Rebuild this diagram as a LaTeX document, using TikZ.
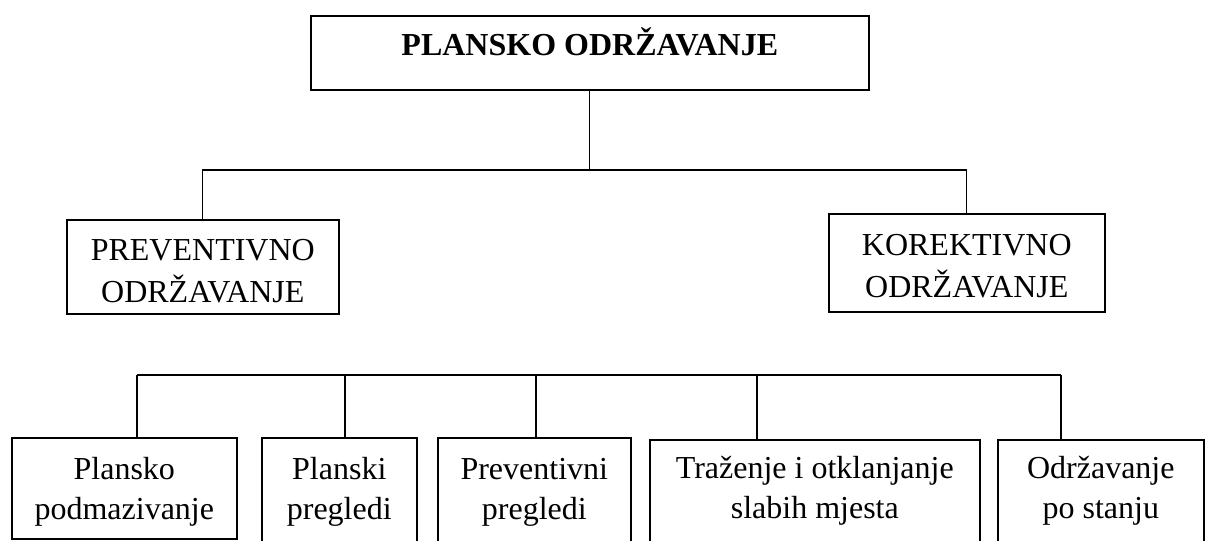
\documentclass[tikz,border=0pt]{standalone}
\usepackage{fontspec}
\setmainfont{Liberation Serif}
\newcommand\pxu{0.75pt}
\begin{document}
\begin{tikzpicture}[x=0.75pt,y=-0.75pt,
  box/.style={draw, line width=1.2pt, inner sep=0pt, align=center, anchor=north west},
  upfont/.style={font=\fontsize{24}{31.5}\selectfont},
  lowfont/.style={font=\fontsize{24}{30}\selectfont},
  conn/.style={line width=1pt}]
\fill[white] (0,0) rectangle (1205,541);
\useasboundingbox (0,0) rectangle (1205,541);
\clip (0,0) rectangle (1205,541);
% top level
\node[box, upfont, minimum width={558*\pxu}, text height={40*\pxu}, text depth={34*\pxu}] (top) at (310,15) {\bfseries PLANSKO ODRŽAVANJE};
% second level
\node[box, upfont, minimum width={272*\pxu}, text height={83*\pxu}, text depth={11*\pxu}] (prev) at (66,219) {PREVENTIVNO\\ODRŽAVANJE};
\node[box, upfont, minimum width={276*\pxu}, text height={84*\pxu}, text depth={14*\pxu}] (kor) at (828,213) {KOREKTIVNO\\ODRŽAVANJE};
% bottom level
\node[box, lowfont, minimum width={225*\pxu}, text height={82*\pxu}, text depth={19*\pxu}] (b1) at (11,437) {Plansko\\podmazivanje};
\node[box, lowfont, minimum width={155*\pxu}, text height={82*\pxu}, text depth={60*\pxu}] (b2) at (261,437) {Planski\\pregledi};
\node[box, lowfont, minimum width={193*\pxu}, text height={82*\pxu}, text depth={60*\pxu}] (b3) at (437,437) {Preventivni\\pregledi};
\node[box, lowfont, minimum width={330*\pxu}, text height={79*\pxu}, text depth={60*\pxu}] (b4) at (649,439) {Traženje i otklanjanje\\slabih mjesta};
\node[box, lowfont, minimum width={206*\pxu}, text height={79*\pxu}, text depth={60*\pxu}] (b5) at (997,439) {Održavanje\\po stanju};
% connectors upper
\coordinate (tj) at (589,170);
\draw[conn] (top.south) -- (top.south |- tj);
\draw[conn] (prev.north) |- (tj) -| (kor.north);
% connectors lower
\coordinate (c1) at (137,375);
\coordinate (c2) at (345,375);
\coordinate (c3) at (536,375);
\coordinate (c4) at (757,375);
\coordinate (c5) at (1061,375);
\draw[conn] (c1) -- (c5);
\draw[conn] (c1) -- (c1 |- b1.north);
\draw[conn] (c2) -- (c2 |- b2.north);
\draw[conn] (c3) -- (c3 |- b3.north);
\draw[conn] (c4) -- (c4 |- b4.north);
\draw[conn] (c5) -- (c5 |- b5.north);
\end{tikzpicture}
\end{document}
